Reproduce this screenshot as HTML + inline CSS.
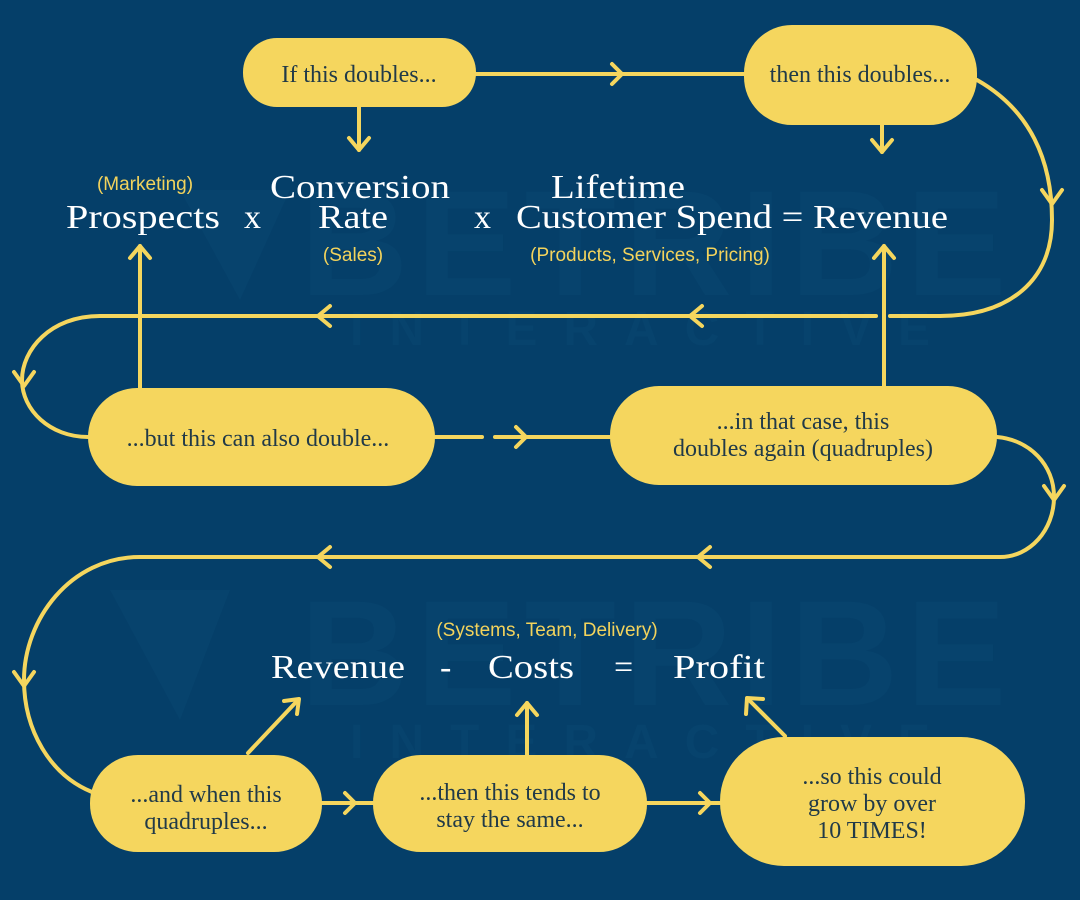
<!DOCTYPE html>
<html><head><meta charset="utf-8"><style>
html,body{margin:0;padding:0;background:#053f69;}
svg{display:block}
.eq{font-family:"Liberation Serif",serif;fill:#fff;font-size:34px}
.lab{font-family:"Liberation Sans",sans-serif;fill:#f3d35c;font-size:19px}
.pt{font-family:"Liberation Serif",serif;fill:#213a48;font-size:24px;text-anchor:middle}
</style></head><body>
<svg width="1080" height="900" viewBox="0 0 1080 900" xmlns="http://www.w3.org/2000/svg">
<rect width="1080" height="900" fill="#053f69"/>
<g fill="#07436d" font-family="Liberation Sans,sans-serif" font-weight="bold">
<text x="300" y="295" font-size="150" letter-spacing="8">BETRIBE</text>
<text x="350" y="345" font-size="48" letter-spacing="26">INTERACTIVE</text>
<text x="300" y="705" font-size="150" letter-spacing="8">BETRIBE</text>
<text x="350" y="758" font-size="48" letter-spacing="26">INTERACTIVE</text>
<polygon points="180,190 290,190 240,300" />
<polygon points="110,590 230,590 180,720" />
</g>
<g stroke="#f5d65e" stroke-width="4" fill="none" stroke-linecap="round" stroke-linejoin="round">
<line x1="476" y1="74" x2="744" y2="74"/>
<polyline points="612,64 622,74 612,84"/>
<line x1="359" y1="107" x2="359" y2="150"/>
<polyline points="349,138 359,150 369,138"/>
<line x1="882" y1="125" x2="882" y2="152"/>
<polyline points="872,140 882,152 892,140"/>
<path d="M977,80 C1030,110 1052,160 1052,220 C1052,280 1010,316 940,316"/>
<polyline points="1042,190 1052,204 1062,190"/>
<line x1="876" y1="316" x2="100" y2="316"/>
<line x1="940" y1="316" x2="890" y2="316"/>
<polyline points="330,306 318,316 330,326"/>
<polyline points="702,306 690,316 702,326"/>
<path d="M100,316 C50,316 22,350 22,380 C22,410 50,437 88,437"/>
<polyline points="14,372 24,386 34,372"/>
<line x1="140" y1="388" x2="140" y2="246"/>
<polyline points="130,258 140,246 150,258"/>
<line x1="884" y1="388" x2="884" y2="246"/>
<polyline points="874,258 884,246 894,258"/>
<line x1="435" y1="437" x2="482" y2="437"/>
<line x1="495" y1="437" x2="610" y2="437"/>
<polyline points="516,427 526,437 516,447"/>
<path d="M997,437 C1030,440 1054,465 1054,497 C1054,530 1030,557 1000,557"/>
<polyline points="1044,486 1054,500 1064,486"/>
<line x1="1000" y1="557" x2="140" y2="557"/>
<polyline points="330,547 318,557 330,567"/>
<polyline points="710,547 698,557 710,567"/>
<path d="M140,557 C70,557 24,620 24,680 C24,730 50,775 92,792"/>
<polyline points="14,672 24,686 34,672"/>
<line x1="322" y1="803" x2="373" y2="803"/>
<polyline points="345,793 355,803 345,813"/>
<line x1="647" y1="803" x2="720" y2="803"/>
<polyline points="700,793 710,803 700,813"/>
<line x1="248" y1="753" x2="298" y2="700"/>
<polyline points="284,701 299,699 297,714"/>
<line x1="527" y1="755" x2="527" y2="703"/>
<polyline points="517,715 527,703 537,715"/>
<line x1="785" y1="736" x2="748" y2="699"/>
<polyline points="746,714 747,698 763,699"/>
</g>
<g fill="#f5d65e">
<rect x="243" y="38" width="233" height="69" rx="34"/>
<rect x="744" y="25" width="233" height="100" rx="48"/>
<rect x="88" y="388" width="347" height="98" rx="49"/>
<rect x="610" y="386" width="387" height="99" rx="49"/>
<rect x="90" y="755" width="232" height="97" rx="48"/>
<rect x="373" y="755" width="274" height="97" rx="48"/>
<rect x="720" y="737" width="305" height="129" rx="64"/>
</g>
<text class="pt" x="359" y="82">If this doubles...</text>
<text class="pt" x="860" y="82">then this doubles...</text>
<text class="pt" x="258" y="446">...but this can also double...</text>
<text class="pt" x="803" y="429">...in that case, this</text>
<text class="pt" x="803" y="456">doubles again (quadruples)</text>
<text class="pt" x="206" y="802">...and when this</text>
<text class="pt" x="206" y="829">quadruples...</text>
<text class="pt" x="510" y="800">...then this tends to</text>
<text class="pt" x="510" y="827">stay the same...</text>
<text class="pt" x="872" y="784">...so this could</text>
<text class="pt" x="872" y="811">grow by over</text>
<text class="pt" x="872" y="838">10 TIMES!</text>
<text class="lab" x="145" y="190" text-anchor="middle">(Marketing)</text>
<text class="lab" x="353" y="261" text-anchor="middle">(Sales)</text>
<text class="lab" x="650" y="261" text-anchor="middle">(Products, Services, Pricing)</text>
<text class="lab" x="547" y="636" text-anchor="middle">(Systems, Team, Delivery)</text>
<text class="eq" x="66" y="228" textLength="154" lengthAdjust="spacingAndGlyphs">Prospects</text>
<text class="eq" x="244" y="228">x</text>
<text class="eq" x="270" y="198" textLength="180" lengthAdjust="spacingAndGlyphs">Conversion</text>
<text class="eq" x="318" y="228" textLength="70" lengthAdjust="spacingAndGlyphs">Rate</text>
<text class="eq" x="474" y="228">x</text>
<text class="eq" x="551" y="198" textLength="134" lengthAdjust="spacingAndGlyphs">Lifetime</text>
<text class="eq" x="516" y="228" textLength="432" lengthAdjust="spacingAndGlyphs">Customer Spend = Revenue</text>
<text class="eq" x="271" y="678" textLength="134" lengthAdjust="spacingAndGlyphs">Revenue</text>
<text class="eq" x="440" y="678">-</text>
<text class="eq" x="488" y="678" textLength="86" lengthAdjust="spacingAndGlyphs">Costs</text>
<text class="eq" x="614" y="678">=</text>
<text class="eq" x="673" y="678" textLength="92" lengthAdjust="spacingAndGlyphs">Profit</text>
</svg>
</body></html>
